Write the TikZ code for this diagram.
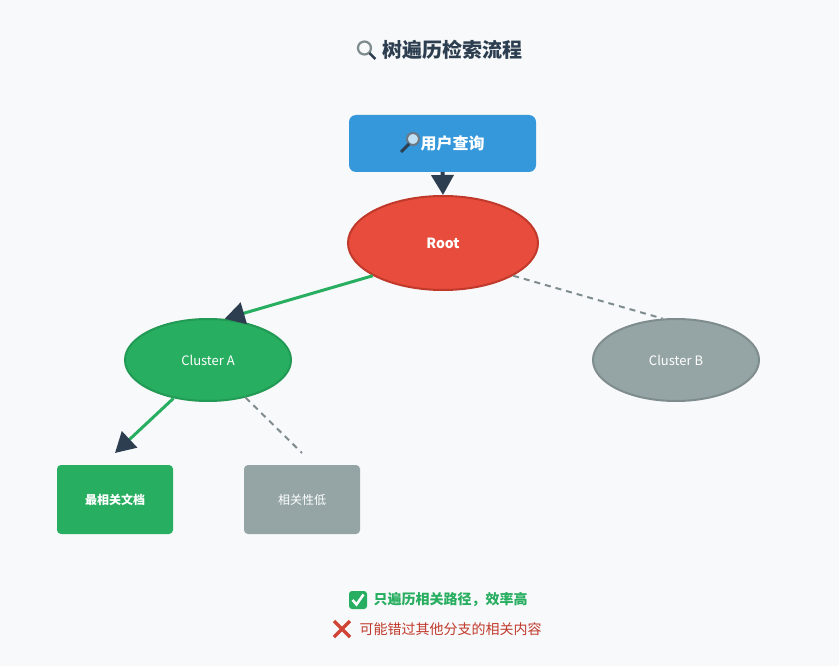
\documentclass[tikz,border=0pt]{standalone}
\usepackage{fontspec}
\setmainfont{Noto Sans CJK SC}
\usetikzlibrary{arrows.meta,shapes.geometric,calc}
\definecolor{bg}{HTML}{F8F9FA}
\definecolor{dark}{HTML}{2C3E50}
\definecolor{blue}{HTML}{3498DB}
\definecolor{red}{HTML}{E74C3C}
\definecolor{redd}{HTML}{C0392B}
\definecolor{grn}{HTML}{27AE60}
\definecolor{grnd}{HTML}{229954}
\definecolor{gry}{HTML}{95A5A6}
\definecolor{gryd}{HTML}{7F8C8D}
\tikzset{
 ell/.style={ellipse,draw,line width=2pt,minimum width=166pt,minimum height=82pt,text=white,font=\fontsize{13}{15}\selectfont},
 box/.style={rectangle,rounded corners=4pt,minimum width=116pt,minimum height=69pt,text=white,font=\fontsize{12}{14}\selectfont},
 tip/.style={-{Triangle[length=20pt,width=22pt,fill=dark,color=dark]}},
 good/.style={grn,line width=3pt,tip},
 bad/.style={gryd,line width=2pt,dash pattern=on 6pt off 5pt},
}
\begin{document}
\begin{tikzpicture}[x=1pt,y=-1pt]
\fill[bg] (0,0) rectangle (839,666);
\useasboundingbox (0,0) rectangle (839,666);
% title
\node[text=dark,font=\fontsize{20}{24}\selectfont\bfseries] (title) at (452,50) {树遍历检索流程};
\draw[gryd,line width=2.2pt] (title.west)++(-14,-2) circle (6.5pt);
\draw[dark,line width=2.5pt] (title.west)++(-9,3) -- ++(6,6);
% query
\node[rectangle,rounded corners=7pt,fill=blue,minimum width=187pt,minimum height=57pt,text=white,font=\fontsize{16}{19}\selectfont\bfseries] (q) at (442.5,143.5) {\hspace{20pt}用户查询};
\draw[dark!70,line width=2pt,fill=blue!30] (413,139) circle (6pt);
\draw[dark,line width=3pt] (409,144) -- (401,152);
\node[ell,fill=red,draw=redd,minimum width=190pt,minimum height=94pt,font=\fontsize{14}{16}\selectfont\bfseries] (root) at (443,243) {Root};
\node[ell,fill=grn,draw=grnd] (ca) at (208,360) {Cluster A};
\node[ell,fill=gry,draw=gryd] (cb) at (676,360) {Cluster B};
\node[box,fill=grn,font=\fontsize{12}{14}\selectfont\bfseries] (best) at (115,499.5) {最相关文档};
\node[box,fill=gry] (low) at (302,499.5) {相关性低};
\coordinate (lowend) at (302,453);
\coordinate (bestend) at (115,453);
\draw[dark,line width=4pt,tip] (q.south) -- (root.north);
\draw[good] (root.-155) -- (ca.68);
\draw[bad] (root.-25) -- (cb.108);
\draw[good] (ca.-132) -- (bestend);
\draw[bad] (ca.-45) -- (lowend);
% bottom
\node[text=grn,font=\fontsize{14}{17}\selectfont\bfseries,anchor=west] (t1) at (370,600) {只遍历相关路径，效率高};
\fill[grn,rounded corners=3pt] (349,591) rectangle (367,609);
\draw[white,line width=2.5pt] (352.5,600) -- (356.5,604.5) -- (363.5,594.5);
\node[text=redd,font=\fontsize{14}{17}\selectfont,anchor=west] (t2) at (356,629) {可能错过其他分支的相关内容};
\draw[red!90!black,line width=3.5pt] (334,621) -- (350,637) (350,621) -- (334,637);
\end{tikzpicture}
\end{document}
